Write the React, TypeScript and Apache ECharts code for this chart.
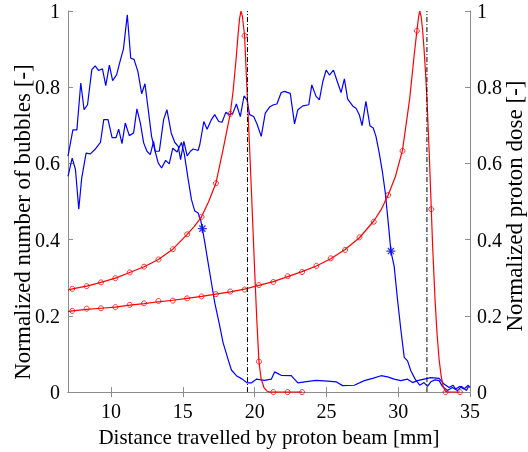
import React, { useEffect, useRef } from "react";
import * as echarts from "echarts";

// ---------- data ----------
const xTicks = [10, 15, 20, 25, 30, 35];
const yTicks = [0, 0.2, 0.4, 0.6, 0.8, 1];
const xTitle = "Distance travelled by proton beam [mm]";
const yLeftTitle = "Normalized number of bubbles [-]";
const yRightTitle = "Normalized proton dose [-]";

// Normalized number of bubbles, first sample (Bragg peak ~19.5 mm)
const bubblesA: [number, number][] = [
  [7.0, 0.619], [7.34, 0.688], [7.62, 0.688], [7.89, 0.811], [8.12, 0.741], [8.36, 0.754],
  [8.66, 0.846], [8.89, 0.856], [9.12, 0.844], [9.4, 0.848], [9.63, 0.804], [9.88, 0.858],
  [10.11, 0.817], [10.39, 0.833], [10.62, 0.867], [10.86, 0.9], [11.13, 0.99], [11.37, 0.876],
  [11.6, 0.873], [11.87, 0.841], [12.13, 0.783], [12.36, 0.809], [12.59, 0.741], [12.82, 0.671],
  [13.05, 0.634], [13.29, 0.601], [13.52, 0.588], [13.8, 0.608], [14.05, 0.599], [14.3, 0.64],
  [14.6, 0.63], [14.9, 0.655], [15.1, 0.625], [15.37, 0.558], [15.6, 0.505], [15.83, 0.475],
  [16.06, 0.47], [16.23, 0.453], [16.36, 0.429], [16.53, 0.392], [16.76, 0.339], [16.99, 0.287],
  [17.22, 0.235], [17.52, 0.182], [17.8, 0.13], [18.15, 0.086], [18.38, 0.058], [18.73, 0.043],
  [19.14, 0.034], [19.49, 0.024], [19.77, 0.024], [20.12, 0.034], [20.69, 0.031], [21.16, 0.034],
  [21.39, 0.053], [21.85, 0.044], [22.55, 0.043], [23.01, 0.024], [23.47, 0.027], [24.28, 0.031],
  [25.09, 0.029], [25.67, 0.027], [26.13, 0.017], [26.94, 0.018], [27.64, 0.03], [28.22, 0.036],
  [28.8, 0.043], [29.26, 0.04], [29.72, 0.034], [30.18, 0.03], [30.65, 0.034], [31.0, 0.025],
  [31.34, 0.03], [31.8, 0.034], [32.27, 0.038], [32.85, 0.036], [33.19, 0.021], [33.54, 0.012],
  [33.82, 0.018], [34.0, 0.008], [34.28, 0.015], [34.58, 0.008], [34.88, 0.018], [35.0, 0.012],
];

// Normalized number of bubbles, second sample (Bragg peak ~32 mm)
const bubblesB: [number, number][] = [
  [7.0, 0.566], [7.29, 0.614], [7.52, 0.584], [7.75, 0.48], [7.95, 0.56], [8.26, 0.627],
  [8.56, 0.625], [8.91, 0.638], [9.26, 0.655], [9.49, 0.715], [9.79, 0.715], [10.07, 0.668],
  [10.35, 0.668], [10.53, 0.69], [10.76, 0.652], [10.99, 0.706], [11.27, 0.673], [11.57, 0.68],
  [11.8, 0.743], [12.04, 0.706], [12.27, 0.654], [12.5, 0.632], [12.73, 0.623], [12.96, 0.658],
  [13.08, 0.632], [13.36, 0.632], [13.66, 0.715], [13.89, 0.741], [14.19, 0.68], [14.44, 0.655],
  [14.68, 0.645], [14.84, 0.61], [15.07, 0.658], [15.3, 0.62], [15.53, 0.632], [15.72, 0.638],
  [16.06, 0.634], [16.18, 0.649], [16.46, 0.71], [16.69, 0.69], [16.99, 0.715], [17.22, 0.728],
  [17.5, 0.71], [17.73, 0.708], [17.99, 0.734], [18.26, 0.728], [18.49, 0.732], [18.73, 0.756],
  [19.0, 0.723], [19.26, 0.777], [19.47, 0.767], [19.65, 0.728], [19.93, 0.723], [20.16, 0.704],
  [20.46, 0.671], [20.74, 0.732], [21.04, 0.748], [21.32, 0.754], [21.55, 0.756], [21.85, 0.786],
  [22.08, 0.789], [22.48, 0.784], [22.78, 0.704], [23.01, 0.741], [23.36, 0.751], [23.77, 0.754],
  [23.98, 0.806], [24.28, 0.776], [24.51, 0.767], [24.75, 0.815], [24.98, 0.845], [25.21, 0.832],
  [25.49, 0.845], [25.72, 0.819], [26.02, 0.786], [26.25, 0.822], [26.48, 0.769], [26.83, 0.751],
  [27.06, 0.745], [27.29, 0.728], [27.48, 0.699], [27.75, 0.763], [28.03, 0.699], [28.26, 0.693],
  [28.45, 0.671], [28.68, 0.627], [28.91, 0.575], [29.1, 0.523], [29.33, 0.435], [29.49, 0.37],
  [29.72, 0.33], [29.95, 0.243], [30.18, 0.165], [30.42, 0.091], [30.65, 0.082], [30.88, 0.056],
  [31.18, 0.034], [31.5, 0.018], [31.8, 0.025], [32.04, 0.015], [32.27, 0.027], [32.57, 0.032],
  [32.85, 0.03], [33.08, 0.015], [33.43, 0.004], [33.77, 0.012], [34.12, 0.004], [34.42, 0.015],
  [34.75, 0.004], [34.9, 0.015],
];

// star markers on the bubble curves
const bubbleStars: [number, number][] = [[16.36, 0.429], [29.49, 0.37]];

// Normalized proton dose, curve 1
const dose1Curve: [number, number][] = [
  [7.0, 0.268], [7.3, 0.271], [8.3, 0.278], [9.3, 0.288], [10.3, 0.299], [11.3, 0.314],
  [12.3, 0.329], [13.3, 0.348], [14.3, 0.375], [15.3, 0.414], [15.8, 0.435], [16.3, 0.46],
  [16.8, 0.5], [17.3, 0.548], [17.8, 0.636], [18.3, 0.73], [18.5, 0.79], [18.7, 0.87],
  [18.85, 0.94], [18.95, 0.98], [19.05, 1.0], [19.15, 0.985], [19.3, 0.935], [19.49, 0.775],
  [19.65, 0.64], [19.8, 0.505], [20.0, 0.32], [20.15, 0.19], [20.3, 0.08], [20.45, 0.035],
  [20.65, 0.012], [20.85, 0.003], [21.04, 0], [21.3, 0], [22.3, 0], [23.3, 0],
];
const dose1MarkerX = [7.3, 8.3, 9.3, 10.3, 11.3, 12.3, 13.3, 14.3, 15.3, 16.3, 17.3, 18.3, 19.3, 20.3, 21.3, 22.3, 23.3];
const dose1MarkerY = [0.271, 0.278, 0.288, 0.299, 0.314, 0.329, 0.348, 0.375, 0.414, 0.46, 0.548, 0.73, 0.935, 0.08, 0, 0, 0];

// Normalized proton dose, curve 2
const dose2Curve: [number, number][] = [
  [7.0, 0.211], [7.3, 0.213], [8.3, 0.217], [9.3, 0.22], [10.3, 0.223], [11.3, 0.228],
  [12.3, 0.232], [13.3, 0.237], [14.3, 0.241], [15.3, 0.246], [16.3, 0.251], [17.3, 0.257],
  [18.3, 0.263], [19.3, 0.27], [20.3, 0.28], [21.3, 0.29], [22.3, 0.303], [23.3, 0.316],
  [24.3, 0.331], [25.3, 0.35], [26.3, 0.374], [27.3, 0.405], [28.3, 0.449], [28.8, 0.478],
  [29.3, 0.517], [29.8, 0.565], [30.3, 0.635], [30.8, 0.77], [31.1, 0.88], [31.3, 0.948],
  [31.42, 0.985], [31.5, 1.0], [31.6, 0.985], [31.7, 0.95], [31.8, 0.9], [31.9, 0.84],
  [32.0, 0.77], [32.15, 0.636], [32.27, 0.516], [32.4, 0.38], [32.57, 0.24], [32.7, 0.155],
  [32.85, 0.085], [33.0, 0.04], [33.15, 0.012], [33.3, 0.002], [33.5, 0], [34.3, 0],
];
const dose2MarkerX = [7.3, 8.3, 9.3, 10.3, 11.3, 12.3, 13.3, 14.3, 15.3, 16.3, 17.3, 18.3, 19.3, 20.3, 21.3, 22.3, 23.3, 24.3, 25.3, 26.3, 27.3, 28.3, 29.3, 30.3, 31.3, 32.3, 33.3, 34.3];
const dose2MarkerY = [0.213, 0.219, 0.22, 0.223, 0.229, 0.233, 0.239, 0.24, 0.246, 0.251, 0.257, 0.264, 0.269, 0.281, 0.289, 0.304, 0.315, 0.331, 0.351, 0.373, 0.406, 0.447, 0.517, 0.633, 0.948, 0.48, 0, 0];

// distal range positions (dash-dot lines)
const rangeLines = [19.5, 32.0];

// ---------- styling ----------
const AXIS_GREY = "#8c8c8c";
const BLUE = "#0000ff";
const RED = "#ff0000";
const STAR = "path://M5 0L5 10M0 5L10 5M1.6 1.6L8.4 8.4M8.4 1.6L1.6 8.4";

export default function App() {
  const ref = useRef<HTMLDivElement>(null);

  useEffect(() => {
    if (!ref.current) return;
    const chart = echarts.init(ref.current, undefined, { renderer: "svg" });

    const markers = (xs: number[], ys: number[]) => xs.map((x, i) => [x, ys[i]]);

    chart.setOption({
      animation: false,
      grid: { left: 68, right: 58, top: 11, bottom: 59 },
      graphic: [
        {
          type: "text",
          x: 22,
          y: 222,
          rotation: Math.PI / 2,
          style: {
            text: yLeftTitle,
            fontFamily: "Liberation Serif",
            fontSize: 23,
            fill: "#000",
            align: "center",
            verticalAlign: "middle",
          },
        },
        {
          type: "text",
          x: 514,
          y: 206,
          rotation: Math.PI / 2,
          style: {
            text: yRightTitle,
            fontFamily: "Liberation Serif",
            fontSize: 23,
            fill: "#000",
            align: "center",
            verticalAlign: "middle",
          },
        },
      ],
      xAxis: [
        {
          type: "value",
          min: 7,
          max: 35,
          position: "bottom",
          splitLine: { show: false },
          axisLine: { show: true, lineStyle: { color: AXIS_GREY, width: 1 } },
          axisTick: { show: true, inside: true, length: 5, customValues: xTicks, lineStyle: { color: AXIS_GREY } },
          name: xTitle,
          nameLocation: "middle",
          nameGap: 32,
          nameTextStyle: { fontFamily: "Liberation Serif", fontSize: 21, color: "#000" },
          axisLabel: { fontFamily: "Liberation Serif", fontSize: 20, color: "#000", margin: 9, customValues: xTicks },
        },
        {
          type: "value",
          min: 7,
          max: 35,
          position: "top",
          splitLine: { show: false },
          axisLine: { show: true, lineStyle: { color: AXIS_GREY, width: 1 } },
          axisTick: { show: true, inside: true, length: 5, customValues: xTicks, lineStyle: { color: AXIS_GREY } },
          axisLabel: { show: false },
        },
      ],
      yAxis: [
        {
          type: "value",
          min: 0,
          max: 1,
          interval: 0.2,
          position: "left",
          splitLine: { show: false },
          axisLine: { show: true, lineStyle: { color: AXIS_GREY, width: 1 } },
          axisTick: { show: true, inside: true, length: 5, lineStyle: { color: AXIS_GREY } },
          axisLabel: { fontFamily: "Liberation Serif", fontSize: 20, color: "#000", margin: 8 },
        },
        {
          type: "value",
          min: 0,
          max: 1,
          interval: 0.2,
          position: "right",
          splitLine: { show: false },
          axisLine: { show: true, lineStyle: { color: AXIS_GREY, width: 1 } },
          axisTick: { show: true, inside: true, length: 5, lineStyle: { color: AXIS_GREY } },
          axisLabel: { fontFamily: "Liberation Serif", fontSize: 20, color: "#000", margin: 7 },
        },
      ],
      series: [
        {
          type: "line",
          data: bubblesA,
          showSymbol: false,
          symbol: "none",
          lineStyle: { color: BLUE, width: 1.2 },
          z: 2,
        },
        {
          type: "line",
          data: bubblesB,
          showSymbol: false,
          symbol: "none",
          lineStyle: { color: BLUE, width: 1.2 },
          z: 2,
        },
        {
          type: "scatter",
          data: bubbleStars,
          symbol: STAR,
          symbolSize: 9,
          itemStyle: { color: "rgba(0,0,0,0)", borderColor: BLUE, borderWidth: 1.3 },
          z: 3,
        },
        {
          type: "line",
          data: dose1Curve,
          yAxisIndex: 1,
          showSymbol: false,
          symbol: "none",
          lineStyle: { color: RED, width: 1.2 },
          z: 3,
        },
        {
          type: "line",
          data: dose2Curve,
          yAxisIndex: 1,
          showSymbol: false,
          symbol: "none",
          lineStyle: { color: RED, width: 1.2 },
          z: 3,
        },
        {
          type: "scatter",
          data: markers(dose1MarkerX, dose1MarkerY),
          yAxisIndex: 1,
          symbol: "circle",
          symbolSize: 5,
          itemStyle: { color: "rgba(255,255,255,0)", borderColor: RED, borderWidth: 1 },
          z: 4,
        },
        {
          type: "scatter",
          data: markers(dose2MarkerX, dose2MarkerY),
          yAxisIndex: 1,
          symbol: "circle",
          symbolSize: 5,
          itemStyle: { color: "rgba(255,255,255,0)", borderColor: RED, borderWidth: 1 },
          z: 4,
        },
        ...rangeLines.map((x) => ({
          type: "line",
          data: [[x, 0], [x, 1]],
          showSymbol: false,
          symbol: "none",
          lineStyle: { color: "#000", width: 1, type: [5, 2, 1, 2] },
          z: 5,
        })),
      ],
    });

    return () => chart.dispose();
  }, []);

  return (
    <div
      ref={ref}
      style={{ position: "fixed", left: 0, top: 0, width: 528, height: 452 }}
    />
  );
}
